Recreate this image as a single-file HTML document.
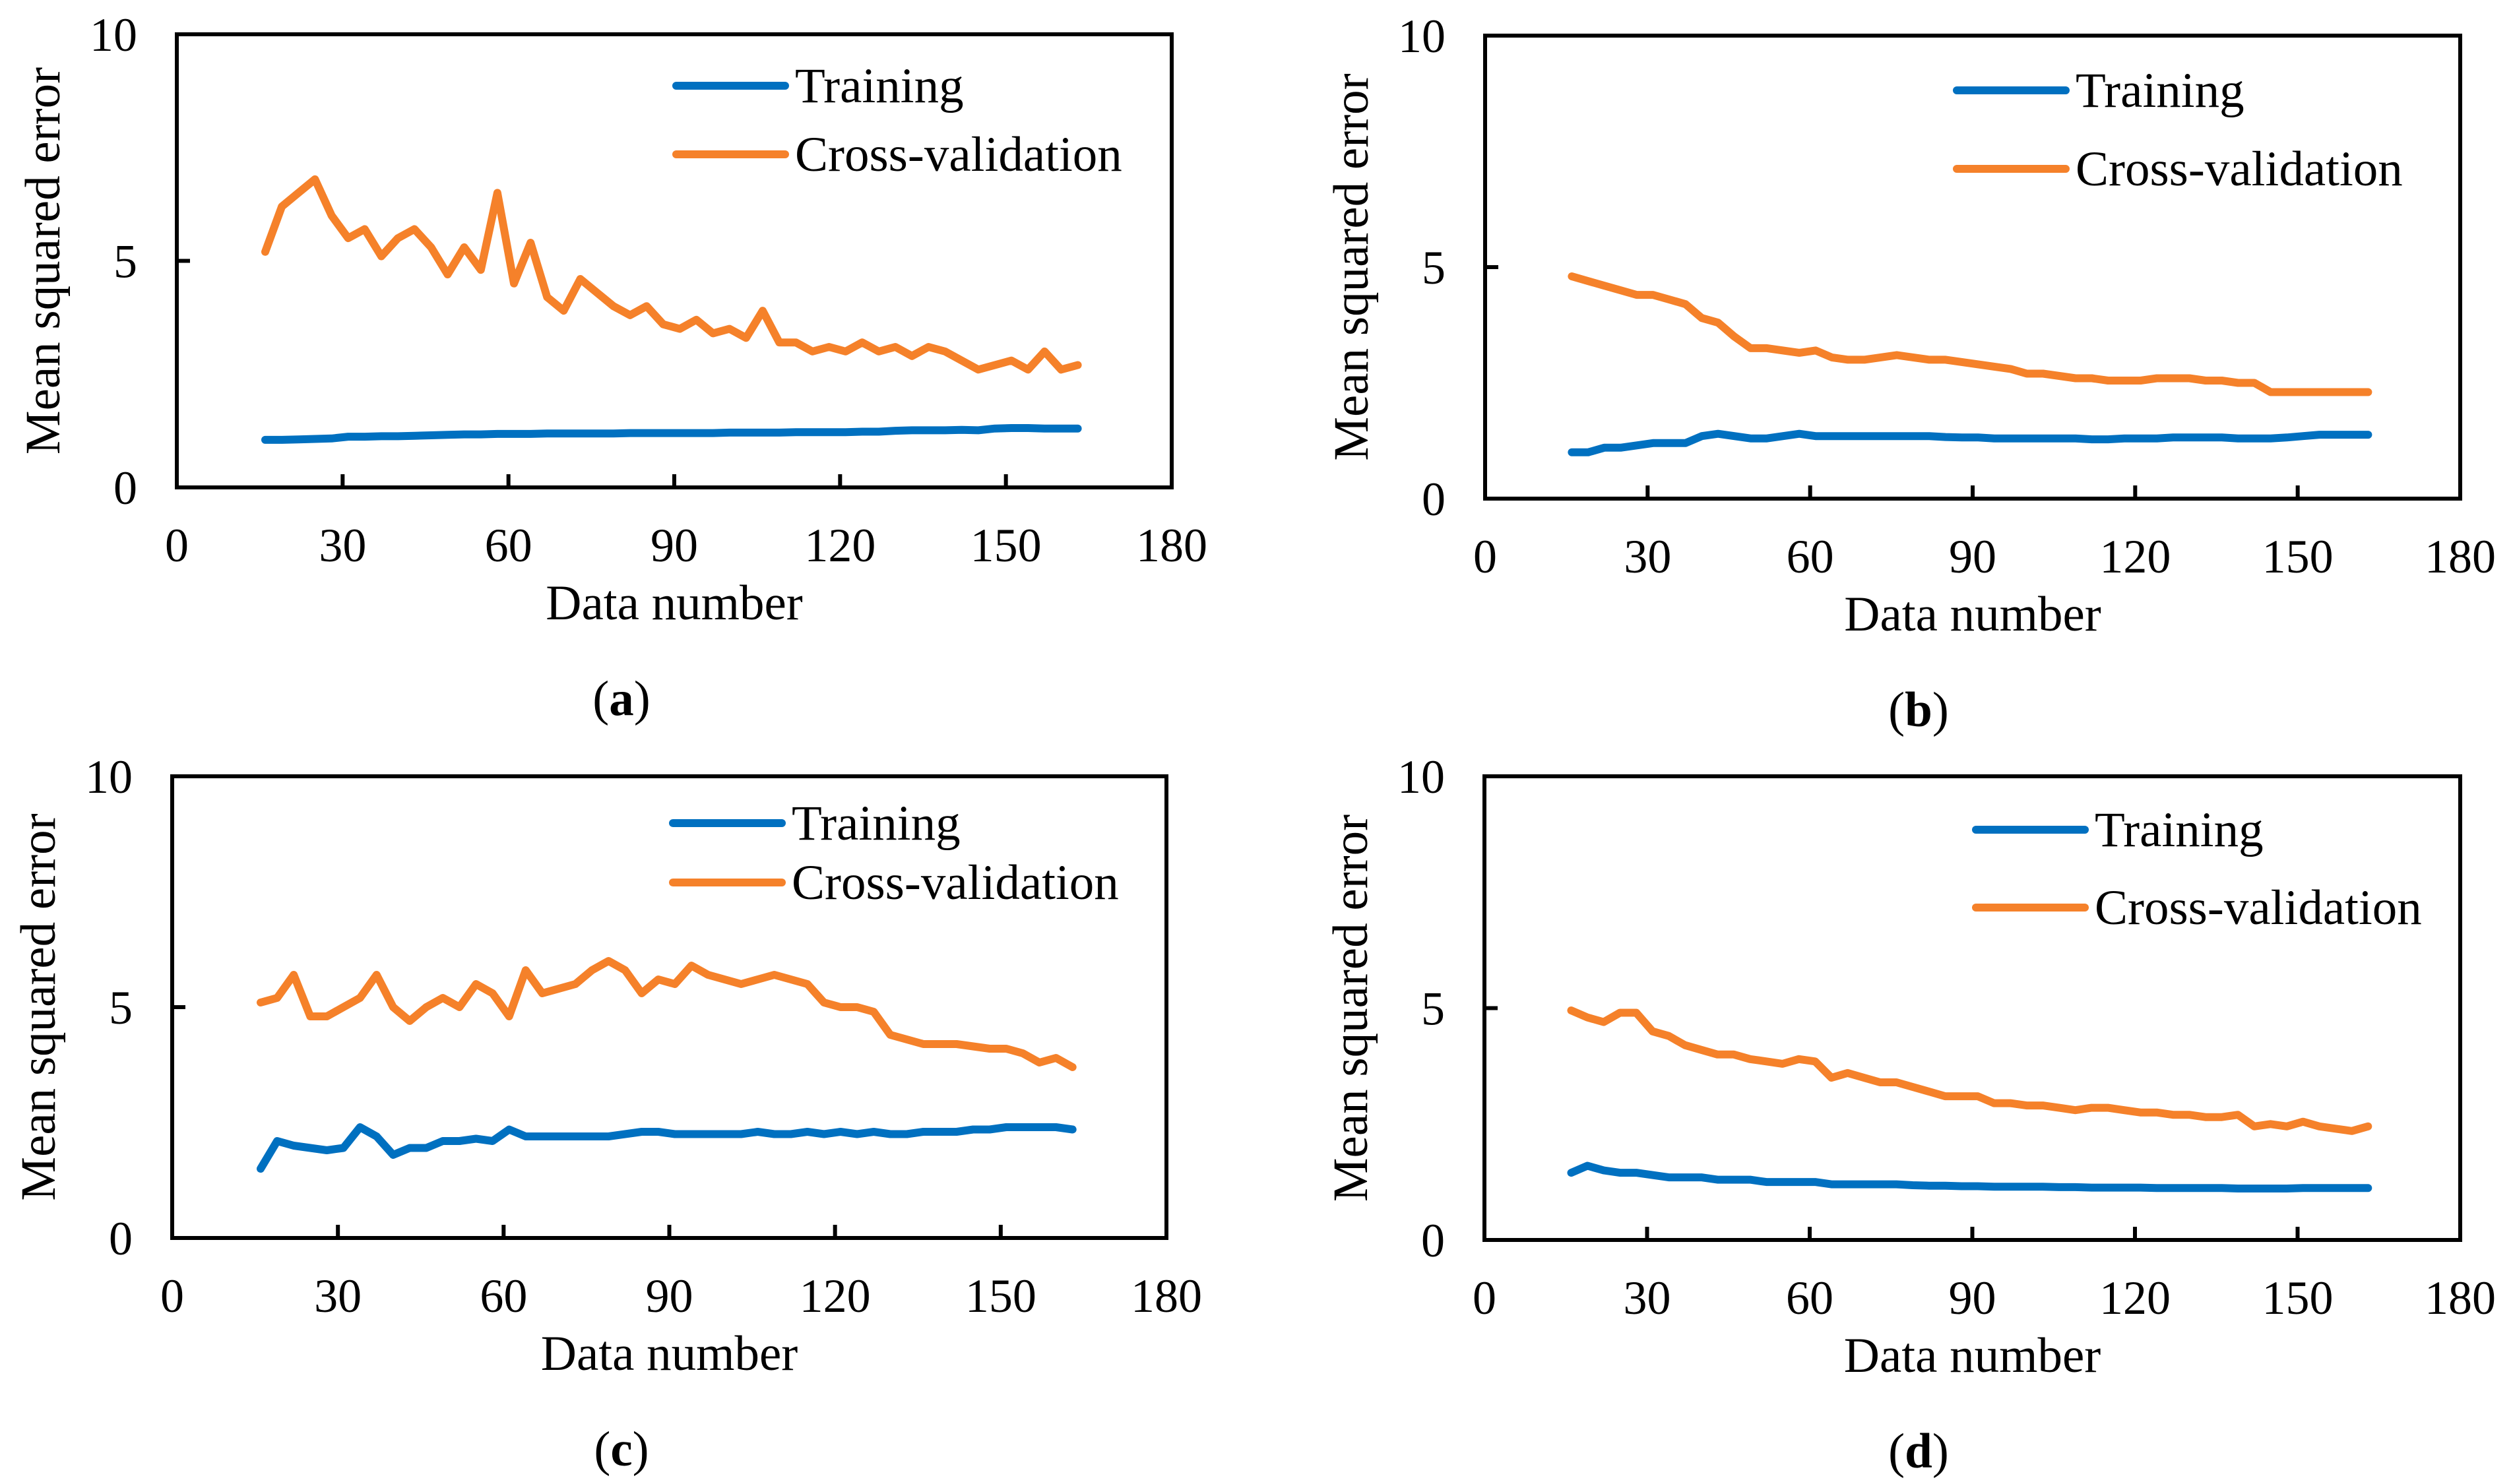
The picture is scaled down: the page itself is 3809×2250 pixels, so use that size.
<!DOCTYPE html>
<html><head><meta charset="utf-8"><style>
html,body{margin:0;padding:0;background:#fff;}
svg{display:block;font-family:"Liberation Serif",serif;}
</style></head><body>
<svg id="fig" width="3809" height="2250" viewBox="0 0 3809 2250" xmlns="http://www.w3.org/2000/svg"></svg>
<script>
const dataNumbers = [16,19,22,25,28,31,34,37,40,43,46,49,52,55,58,61,64,67,70,73,76,79,82,85,88,91,94,97,100,103,106,109,112,115,118,121,124,127,130,133,136,139,142,145,148,151,154,157,160,163];
const xTicks = [0,30,60,90,120,150,180];
const yTicks = [0,5,10];
const aTraining = [1.05,1.05,1.06,1.07,1.08,1.12,1.12,1.13,1.13,1.14,1.15,1.16,1.17,1.17,1.18,1.18,1.18,1.19,1.19,1.19,1.19,1.19,1.2,1.2,1.2,1.2,1.2,1.2,1.21,1.21,1.21,1.21,1.22,1.22,1.22,1.22,1.23,1.23,1.25,1.26,1.26,1.26,1.27,1.26,1.3,1.31,1.31,1.3,1.3,1.3];
const aCV = [5.2,6.2,6.5,6.8,6.0,5.5,5.7,5.1,5.5,5.7,5.3,4.7,5.3,4.8,6.5,4.5,5.4,4.2,3.9,4.6,4.3,4.0,3.8,4.0,3.6,3.5,3.7,3.4,3.5,3.3,3.9,3.2,3.2,3.0,3.1,3.0,3.2,3.0,3.1,2.9,3.1,3.0,2.8,2.6,2.7,2.8,2.6,3.0,2.6,2.7];
const bTraining = [1.0,1.0,1.1,1.1,1.15,1.2,1.2,1.2,1.35,1.4,1.35,1.3,1.3,1.35,1.4,1.35,1.35,1.35,1.35,1.35,1.35,1.35,1.35,1.33,1.32,1.32,1.3,1.3,1.3,1.3,1.3,1.3,1.28,1.28,1.3,1.3,1.3,1.32,1.32,1.32,1.32,1.3,1.3,1.3,1.32,1.35,1.38,1.38,1.38,1.38];
const bCV = [4.8,4.7,4.6,4.5,4.4,4.4,4.3,4.2,3.9,3.8,3.5,3.25,3.25,3.2,3.15,3.2,3.05,3.0,3.0,3.05,3.1,3.05,3.0,3.0,2.95,2.9,2.85,2.8,2.7,2.7,2.65,2.6,2.6,2.55,2.55,2.55,2.6,2.6,2.6,2.55,2.55,2.5,2.5,2.3,2.3,2.3,2.3,2.3,2.3,2.3];
const cTraining = [1.5,2.1,2.0,1.95,1.9,1.95,2.4,2.2,1.8,1.95,1.95,2.1,2.1,2.15,2.1,2.35,2.2,2.2,2.2,2.2,2.2,2.2,2.25,2.3,2.3,2.25,2.25,2.25,2.25,2.25,2.3,2.25,2.25,2.3,2.25,2.3,2.25,2.3,2.25,2.25,2.3,2.3,2.3,2.35,2.35,2.4,2.4,2.4,2.4,2.35];
const cCV = [5.1,5.2,5.7,4.8,4.8,5.0,5.2,5.7,5.0,4.7,5.0,5.2,5.0,5.5,5.3,4.8,5.8,5.3,5.4,5.5,5.8,6.0,5.8,5.3,5.6,5.5,5.9,5.7,5.6,5.5,5.6,5.7,5.6,5.5,5.1,5.0,5.0,4.9,4.4,4.3,4.2,4.2,4.2,4.15,4.1,4.1,4.0,3.8,3.9,3.7];
const dTraining = [1.45,1.6,1.5,1.45,1.45,1.4,1.35,1.35,1.35,1.3,1.3,1.3,1.25,1.25,1.25,1.25,1.2,1.2,1.2,1.2,1.2,1.18,1.17,1.17,1.16,1.16,1.15,1.15,1.15,1.15,1.14,1.14,1.13,1.13,1.13,1.13,1.12,1.12,1.12,1.12,1.12,1.11,1.11,1.11,1.11,1.12,1.12,1.12,1.12,1.12];
const dCV = [4.95,4.8,4.7,4.9,4.9,4.5,4.4,4.2,4.1,4.0,4.0,3.9,3.85,3.8,3.9,3.85,3.5,3.6,3.5,3.4,3.4,3.3,3.2,3.1,3.1,3.1,2.95,2.95,2.9,2.9,2.85,2.8,2.85,2.85,2.8,2.75,2.75,2.7,2.7,2.65,2.65,2.7,2.45,2.5,2.45,2.55,2.45,2.4,2.35,2.45];

const panels = [
 {id:'a', x0:268,x1:1776,y0:52,y1:739, tr:aTraining, cv:aCV, lx:1025,ly1:130,ly2:234, cx:942},
 {id:'b', x0:2251,x1:3729,y0:54,y1:756, tr:bTraining, cv:bCV, lx:2966,ly1:137,ly2:256, cx:2908},
 {id:'c', x0:261,x1:1768,y0:1177,y1:1877, tr:cTraining, cv:cCV, lx:1020,ly1:1248,ly2:1338, cx:942},
 {id:'d', x0:2250,x1:3729,y0:1177,y1:1880, tr:dTraining, cv:dCV, lx:2995,ly1:1258,ly2:1376, cx:2908}
];
const NS='http://www.w3.org/2000/svg';
const svg=document.getElementById('fig');
function mk(tag,attrs,parent,text){const e=document.createElementNS(NS,tag);for(const k in attrs)e.setAttribute(k,attrs[k]);if(text!==undefined)e.textContent=text;parent.appendChild(e);return e;}
const BLUE='#0070C0', ORANGE='#F5812A';
panels.forEach(p=>{
 const g=mk('g',{},svg);
 
 
 const sx=v=>p.x0+(v-0)/(180-0)*(p.x1-p.x0);
 const sy=v=>p.y1-(v-0)/(10-0)*(p.y1-p.y0);
 const box=mk('rect',{x:p.x0,y:p.y0,width:p.x1-p.x0,height:p.y1-p.y0,fill:'none',stroke:'#000','stroke-width':6},g);
 
 
 xTicks.forEach(t=>{
  if(t>0&&t<180){const tk=mk('line',{x1:sx(t),x2:sx(t),y1:p.y1,y2:p.y1-20,stroke:'#000','stroke-width':6},g);
  }
  const lb=mk('text',{x:sx(t),y:p.y1+112,'font-size':72,'text-anchor':'middle'},g,String(t));
  
  
 });
 yTicks.forEach(t=>{
  if(t>0&&t<10){const tk=mk('line',{x1:p.x0,x2:p.x0+20,y1:sy(t),y2:sy(t),stroke:'#000','stroke-width':6},g);
  }
  const lb=mk('text',{x:p.x0-60,y:sy(t)+25,'font-size':72,'text-anchor':'end'},g,String(t));
  
  
 });
 const xt=mk('text',{x:(p.x0+p.x1)/2,y:p.y1+200,'font-size':75,'text-anchor':'middle'},g,'Data number');
 
 
 const ycx=p.x0-178, ycy=(p.y0+p.y1)/2;
 const yt=mk('text',{x:ycx,y:ycy,'font-size':75,'text-anchor':'middle',transform:`rotate(-90 ${ycx} ${ycy})`},g,'Mean squared error');
 
 
 const cap=mk('text',{x:p.cx,y:p.y1+345,'font-size':75,'text-anchor':'middle'},g);
 
 
 mk('tspan',{},cap,'(');mk('tspan',{'font-weight':'bold'},cap,p.id);mk('tspan',{},cap,')');
 [[p.tr,BLUE,'training-line'],[p.cv,ORANGE,'cross-validation-line']].forEach(([vals,col,nm])=>{
  const d=vals.map((v,i)=>(i?'L':'M')+sx(dataNumbers[i]).toFixed(1)+' '+sy(v).toFixed(1)).join(' ');
  const pa=mk('path',{d:d,fill:'none',stroke:col,'stroke-width':12,'stroke-linejoin':'round','stroke-linecap':'round'},g);
  
  
 });
 [[p.ly1,BLUE,'Training','legend-entry-training'],[p.ly2,ORANGE,'Cross-validation','legend-entry-cross-validation']].forEach(([y,col,txt,nm])=>{
  const lg=mk('g',{},g);
  
  
  mk('line',{x1:p.lx,x2:p.lx+165,y1:y,y2:y,stroke:col,'stroke-width':12,'stroke-linecap':'round'},lg);
  mk('text',{x:p.lx+180,y:y+25,'font-size':75},lg,txt);
 });
});
</script>
</body></html>
